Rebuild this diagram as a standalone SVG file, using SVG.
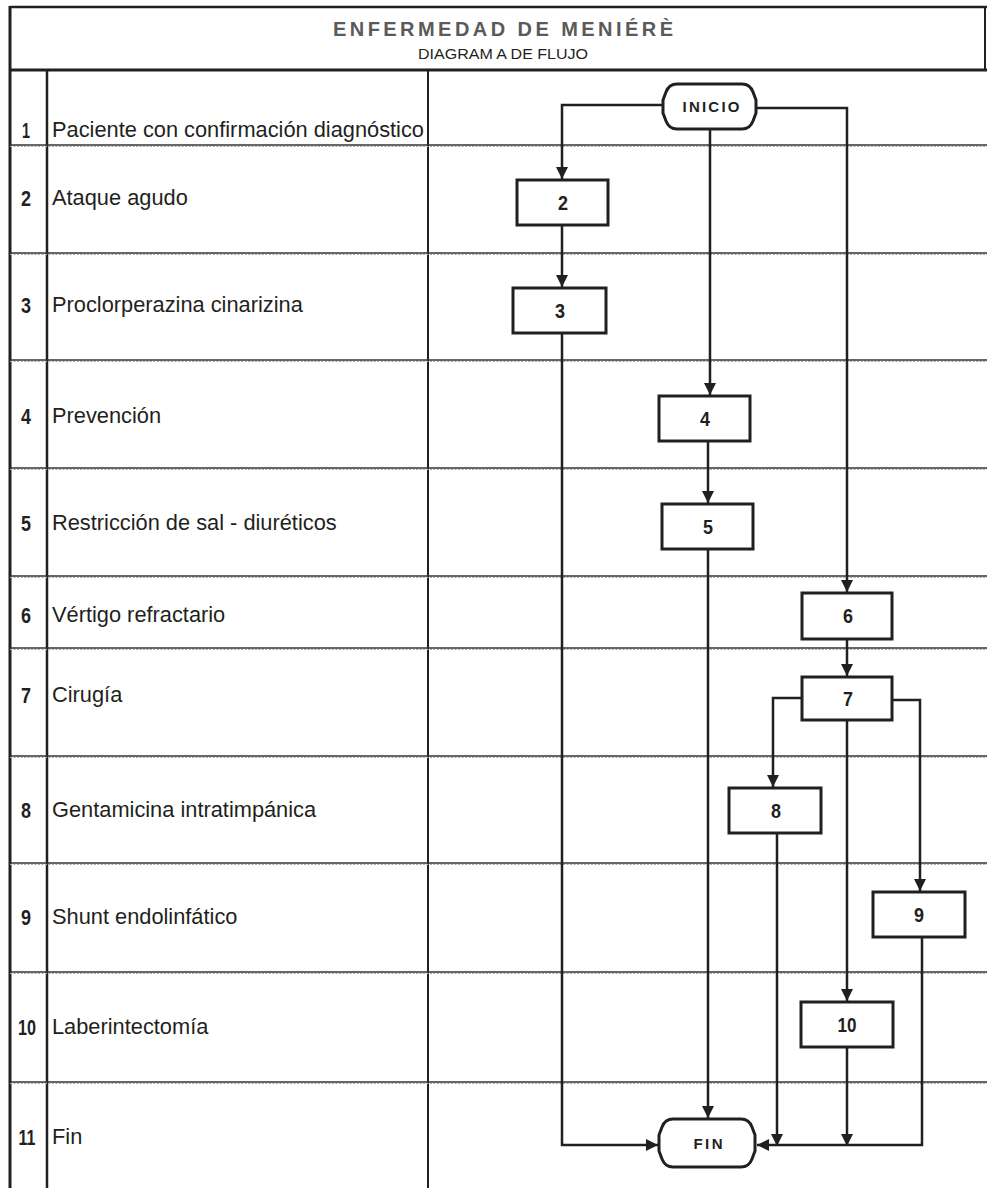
<svg xmlns="http://www.w3.org/2000/svg" width="987" height="1188" viewBox="0 0 987 1188">
<style>
.frame{stroke:#231f20;fill:none}
.row{stroke:#333;stroke-width:1.3;fill:none}
.rowdot{stroke:#aaa;stroke-width:1.2;stroke-dasharray:2 1.5;fill:none}
.lbl{font-family:"Liberation Sans",Arial,sans-serif;font-size:21.8px;fill:#231f20}
.num{font-family:"Liberation Sans Narrow","Liberation Sans",Arial,sans-serif;font-weight:bold;font-size:22px;fill:#231f20;text-anchor:middle}
.box{fill:#fff;stroke:#231f20;stroke-width:3}
.bnum{font-family:"Liberation Sans Narrow","Liberation Sans",Arial,sans-serif;font-weight:bold;font-size:20px;fill:#231f20;text-anchor:middle}
.term{font-family:"Liberation Sans",Arial,sans-serif;font-weight:bold;font-size:15px;fill:#231f20;text-anchor:middle}
.conn path{fill:none;stroke:#231f20;stroke-width:2.5;marker-end:url(#arr)}
</style>
<defs>
<marker id="arr" markerUnits="userSpaceOnUse" markerWidth="12" markerHeight="12" refX="12" refY="6" orient="auto">
<path d="M0,0 L12,6 L0,12 Z" fill="#231f20"/>
</marker>
</defs>
<rect width="987" height="1188" fill="#fff"/>
<g id="table">
<line class="frame" x1="10" y1="7" x2="987" y2="7" stroke-width="2.5"/>
<line class="frame" x1="985" y1="7" x2="985" y2="70" stroke-width="2"/>
<line class="frame" x1="10" y1="6" x2="10" y2="1188" stroke-width="3"/>
<line class="frame" x1="10" y1="70" x2="987" y2="70" stroke-width="3"/>
<line class="frame" x1="47" y1="70" x2="47" y2="1188" stroke-width="2.5"/>
<line class="frame" x1="428" y1="70" x2="428" y2="1188" stroke-width="2"/>
<g>
<line class="row" x1="10" y1="145" x2="987" y2="145"/><line class="rowdot" x1="10" y1="146.5" x2="987" y2="146.5"/>
<line class="row" x1="10" y1="253" x2="987" y2="253"/><line class="rowdot" x1="10" y1="254.5" x2="987" y2="254.5"/>
<line class="row" x1="10" y1="360" x2="987" y2="360"/><line class="rowdot" x1="10" y1="361.5" x2="987" y2="361.5"/>
<line class="row" x1="10" y1="468" x2="987" y2="468"/><line class="rowdot" x1="10" y1="469.5" x2="987" y2="469.5"/>
<line class="row" x1="10" y1="576" x2="987" y2="576"/><line class="rowdot" x1="10" y1="577.5" x2="987" y2="577.5"/>
<line class="row" x1="10" y1="648" x2="987" y2="648"/><line class="rowdot" x1="10" y1="649.5" x2="987" y2="649.5"/>
<line class="row" x1="10" y1="756" x2="987" y2="756"/><line class="rowdot" x1="10" y1="757.5" x2="987" y2="757.5"/>
<line class="row" x1="10" y1="863" x2="987" y2="863"/><line class="rowdot" x1="10" y1="864.5" x2="987" y2="864.5"/>
<line class="row" x1="10" y1="972" x2="987" y2="972"/><line class="rowdot" x1="10" y1="973.5" x2="987" y2="973.5"/>
<line class="row" x1="10" y1="1082" x2="987" y2="1082"/><line class="rowdot" x1="10" y1="1083.5" x2="987" y2="1083.5"/>
</g>
<text x="503" y="36" text-anchor="middle" font-family="'Liberation Sans',Arial,sans-serif" font-weight="bold" font-size="20" textLength="340" lengthAdjust="spacing" fill="#5a5a5a">ENFERMEDAD DE MENIÉRÈ</text>
<text x="503" y="59" text-anchor="middle" font-family="'Liberation Sans',Arial,sans-serif" font-size="14" textLength="170" lengthAdjust="spacingAndGlyphs" fill="#231f20">DIAGRAM A DE FLUJO</text>
</g>
<g id="labels">
<text class="num" x="26" y="138" textLength="8" lengthAdjust="spacingAndGlyphs">1</text><text class="lbl" x="52" y="137">Paciente con confirmación diagnóstico</text>
<text class="num" x="26" y="206" textLength="10" lengthAdjust="spacingAndGlyphs">2</text><text class="lbl" x="52" y="205">Ataque agudo</text>
<text class="num" x="26" y="313" textLength="10" lengthAdjust="spacingAndGlyphs">3</text><text class="lbl" x="52" y="312">Proclorperazina cinarizina</text>
<text class="num" x="26" y="424" textLength="10" lengthAdjust="spacingAndGlyphs">4</text><text class="lbl" x="52" y="423">Prevención</text>
<text class="num" x="26" y="531" textLength="10" lengthAdjust="spacingAndGlyphs">5</text><text class="lbl" x="52" y="530">Restricción de sal - diuréticos</text>
<text class="num" x="26" y="623" textLength="10" lengthAdjust="spacingAndGlyphs">6</text><text class="lbl" x="52" y="622">Vértigo refractario</text>
<text class="num" x="26" y="703" textLength="10" lengthAdjust="spacingAndGlyphs">7</text><text class="lbl" x="52" y="702">Cirugía</text>
<text class="num" x="26" y="818" textLength="10" lengthAdjust="spacingAndGlyphs">8</text><text class="lbl" x="52" y="817">Gentamicina intratimpánica</text>
<text class="num" x="26" y="925" textLength="10" lengthAdjust="spacingAndGlyphs">9</text><text class="lbl" x="52" y="924">Shunt endolinfático</text>
<text class="num" x="27" y="1035" textLength="18" lengthAdjust="spacingAndGlyphs">10</text><text class="lbl" x="52" y="1034">Laberintectomía</text>
<text class="num" x="27" y="1145" textLength="17" lengthAdjust="spacingAndGlyphs">11</text><text class="lbl" x="52" y="1144">Fin</text>
</g>
<g id="connectors" class="conn">
<path d="M663,105 H562 V179"/>
<path d="M710,129 V395"/>
<path d="M756,108 H847 V592"/>
<path d="M562,225 V287"/>
<path d="M562,333 V1145 H658"/>
<path d="M708,441 V503"/>
<path d="M708,549 V1118"/>
<path d="M847,639 V676"/>
<path d="M802,698 H773 V787"/>
<path d="M892,700 H920 V891"/>
<path d="M847,720 V1001"/>
<path d="M777,833 V1146"/>
<path d="M847,1047 V1146"/>
<path d="M922,937 V1145 H757"/>
</g>
<g id="inicio">
<path class="box" d="M677,84 H742 Q750,84 753,92 L756,100 V113 L753,121 Q750,129 742,129 H677 Q669,129 666,121 L663,113 V100 L666,92 Q669,84 677,84 Z"/>
<text class="term" x="711" y="112" textLength="57" lengthAdjust="spacing">INICIO</text>
</g>
<g id="n2"><rect class="box" x="517" y="180" width="91" height="45"/><text class="bnum" x="563" y="210" textLength="10" lengthAdjust="spacingAndGlyphs">2</text></g>
<g id="n3"><rect class="box" x="513" y="288" width="93" height="45"/><text class="bnum" x="560" y="318" textLength="10" lengthAdjust="spacingAndGlyphs">3</text></g>
<g id="n4"><rect class="box" x="659" y="396" width="91" height="45"/><text class="bnum" x="705" y="426" textLength="10" lengthAdjust="spacingAndGlyphs">4</text></g>
<g id="n5"><rect class="box" x="662" y="504" width="91" height="45"/><text class="bnum" x="708" y="534" textLength="10" lengthAdjust="spacingAndGlyphs">5</text></g>
<g id="n6"><rect class="box" x="802" y="593" width="90" height="46"/><text class="bnum" x="848" y="623" textLength="10" lengthAdjust="spacingAndGlyphs">6</text></g>
<g id="n7"><rect class="box" x="802" y="677" width="90" height="43"/><text class="bnum" x="848" y="706" textLength="10" lengthAdjust="spacingAndGlyphs">7</text></g>
<g id="n8"><rect class="box" x="729" y="788" width="92" height="45"/><text class="bnum" x="776" y="818" textLength="10" lengthAdjust="spacingAndGlyphs">8</text></g>
<g id="n9"><rect class="box" x="873" y="892" width="92" height="45"/><text class="bnum" x="919" y="922" textLength="10" lengthAdjust="spacingAndGlyphs">9</text></g>
<g id="n10"><rect class="box" x="801" y="1002" width="92" height="45"/><text class="bnum" x="847" y="1032" textLength="19" lengthAdjust="spacingAndGlyphs">10</text></g>
<g id="fin">
<path class="box" d="M673,1119 H741 Q749,1119 752,1127 L755,1135 V1151 L752,1159 Q749,1167 741,1167 H673 Q665,1167 662,1159 L659,1151 V1135 L662,1127 Q665,1119 673,1119 Z"/>
<text class="term" x="708" y="1149" textLength="29" lengthAdjust="spacing">FIN</text>
</g>
</svg>
